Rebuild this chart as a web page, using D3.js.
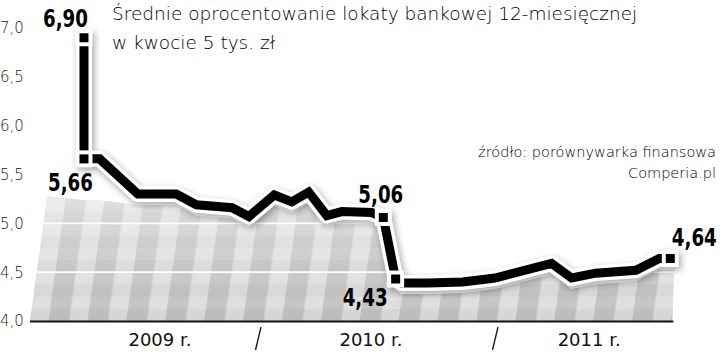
<!DOCTYPE html>
<html>
<head>
<meta charset="utf-8">
<script src="https://cdn.jsdelivr.net/npm/d3@7"></script>
<style>
  html, body { margin: 0; padding: 0; background: #fff; }
  svg { display: block; }
  .light { font-family: "DejaVu Sans", sans-serif; font-weight: 200; }
  .regular { font-family: "DejaVu Sans", sans-serif; font-weight: 400; }
  .big { font-family: "DejaVu Sans Condensed", "DejaVu Sans", sans-serif; font-stretch: condensed; font-weight: bold; }
</style>
</head>
<body>
<div id="chart"></div>
<script>
// data
const dates = ["2009-04-08","2009-04-08","2009-05-02","2009-06-30","2009-08-28","2009-09-28","2009-11-22","2009-12-18",
  "2010-01-26","2010-02-22","2010-03-20","2010-04-17","2010-05-10","2010-06-25","2010-07-13","2010-08-01",
  "2010-08-10","2010-09-20","2010-11-12","2011-01-01","2011-03-29","2011-04-29","2011-06-05","2011-08-06",
  "2011-09-11","2011-09-28"];
const values = [6.90,5.66,5.66,5.30,5.30,5.19,5.16,5.07,5.29,5.22,5.32,5.08,5.12,5.11,5.06,4.43,
  4.39,4.39,4.40,4.44,4.59,4.44,4.49,4.52,4.64,4.64];
const markerIdx = [0, 1, 14, 15, 25];
const yTicks = [4.0, 4.5, 5.0, 5.5, 6.0, 6.5, 7.0];
const gridTicks = [4.5, 5.0];
const yearLabels = ["2009 r.", "2010 r.", "2011 r."];
const yearLabelDates = ["2009-08-03", "2010-06-24", "2011-05-26"];
const yearBreaks = ["2010-01-01", "2011-01-01"];
const title = ["Średnie oprocentowanie lokaty bankowej 12-miesięcznej", "w kwocie 5 tys. zł"];
const source = ["źródło: porównywarka finansowa", "Comperia.pl"];

const width = 720, height = 352;
const parse = d3.timeParse("%Y-%m-%d");
const data = dates.map((d, i) => ({ date: parse(d), value: values[i] }));

const x = d3.scaleTime()
  .domain([new Date(2009, 0, 1), new Date(2012, 0, 1)])
  .range([21, 732]);
const y = d3.scaleLinear().domain([4, 7]).range([321, 28]);

const comma = v => d3.format(".1f")(v).replace(".", ",");
const comma2 = v => d3.format(".2f")(v).replace(".", ",");

const svg = d3.select("#chart").append("svg")
  .attr("width", width).attr("height", height);
const defs = svg.append("defs");

// striped, slanted background under the line
const pat = defs.append("pattern")
  .attr("id", "stripes")
  .attr("patternUnits", "userSpaceOnUse")
  .attr("width", 38.9).attr("height", 400)
  .attr("patternTransform", "translate(0,321) skewX(-8) translate(48.5,-321)");
pat.append("rect").attr("width", 38.9).attr("height", 400).attr("fill", "#dedede");
pat.append("rect").attr("width", 20.5).attr("height", 400).attr("fill", "#c3c3c3");

const fade = defs.append("linearGradient")
  .attr("id", "fade").attr("gradientUnits", "userSpaceOnUse")
  .attr("x1", 0).attr("x2", 0).attr("y1", 190).attr("y2", 321);
fade.append("stop").attr("offset", 0).attr("stop-color", "#fff").attr("stop-opacity", 0.5);
fade.append("stop").attr("offset", 0.7).attr("stop-color", "#fff").attr("stop-opacity", 0.08);
fade.append("stop").attr("offset", 1).attr("stop-color", "#fff").attr("stop-opacity", 0);

const shadow = defs.append("filter").attr("id", "shadow")
  .attr("x", "-10%").attr("y", "-10%").attr("width", "120%").attr("height", "120%");
shadow.append("feGaussianBlur").attr("stdDeviation", 3.5);

// area outline: the line dropped a little, the spike left out
const areaCap = 5.35, drop = 11;
const base = y(4);
const areaPts = data.slice(1).map(d => [x(d.date), y(Math.min(d.value, areaCap)) + drop]);
const top0 = areaPts[0][1] - 4;
const last = areaPts[areaPts.length - 1];
const poly = [[30, base], [30 + 0.14 * (base - top0), top0]]
  .concat(areaPts)
  .concat([[last[0] + 4, last[1]], [last[0] + 2, base]]);

defs.append("clipPath").attr("id", "areaClip")
  .append("path").attr("d", d3.line()(poly) + "Z");

const area = svg.append("g").attr("clip-path", "url(#areaClip)");
area.append("rect").attr("x", 0).attr("y", 100).attr("width", width).attr("height", base - 100)
  .attr("fill", "url(#stripes)");
// faint horizontal bands
const bands = d3.range(4, 5.5, 0.25);
area.selectAll(".band").data(bands).join("rect")
  .attr("x", 0).attr("width", width)
  .attr("y", d => y(d + 0.125)).attr("height", d => y(d) - y(d + 0.125))
  .attr("fill", "#000").attr("opacity", 0.035);
area.append("rect").attr("x", 0).attr("y", 100).attr("width", width).attr("height", base - 100)
  .attr("fill", "url(#fade)");
area.selectAll(".grid").data(gridTicks).join("line")
  .attr("x1", 0).attr("x2", width)
  .attr("y1", d => y(d)).attr("y2", d => y(d))
  .attr("stroke", "#fff").attr("stroke-width", 1.6);

// baseline
svg.append("line")
  .attr("x1", 30).attr("x2", last[0] + 3)
  .attr("y1", base + 0.5).attr("y2", base + 0.5)
  .attr("stroke", "#111").attr("stroke-width", 2);

// y tick labels
svg.selectAll(".ytick").data(yTicks).join("text")
  .attr("class", "light")
  .attr("x", 0).attr("y", d => y(d)).attr("dy", "0.36em")
  .attr("font-size", 15).attr("fill", "#222")
  .text(comma);

// year labels and separators
svg.selectAll(".year").data(yearLabels).join("text")
  .attr("class", "regular")
  .attr("x", (d, i) => x(parse(yearLabelDates[i])))
  .attr("y", 346).attr("text-anchor", "middle")
  .attr("font-size", 18).attr("fill", "#111")
  .text(d => d);
svg.selectAll(".sep").data(yearBreaks).join("line")
  .attr("x1", d => x(parse(d)) - 2.5).attr("x2", d => x(parse(d)) + 3)
  .attr("y1", 350).attr("y2", 327)
  .attr("stroke", "#111").attr("stroke-width", 1.3);

// the line
const line = d3.line().x(d => x(d.date)).y(d => y(d.value));
const markers = markerIdx.map(i => data[i]);

const sh = svg.append("g").attr("filter", "url(#shadow)").attr("transform", "translate(2,3)")
  .attr("opacity", 0.35);
sh.append("path").attr("d", line(data)).attr("fill", "none")
  .attr("stroke", "#000").attr("stroke-width", 16).attr("stroke-linejoin", "round");
sh.selectAll("rect").data(markers).join("rect")
  .attr("x", d => x(d.date) - 8.5).attr("y", d => y(d.value) - 8.5)
  .attr("width", 17).attr("height", 17).attr("fill", "#000");

svg.append("path").attr("d", line(data)).attr("fill", "none")
  .attr("stroke", "#fff").attr("stroke-width", 16).attr("stroke-linejoin", "round");
svg.append("path").attr("d", line(data)).attr("fill", "none")
  .attr("stroke", "#000").attr("stroke-width", 9)
  .attr("stroke-linejoin", "miter").attr("stroke-miterlimit", 2);

svg.selectAll(".mk-bg").data(markers).join("rect")
  .attr("x", d => x(d.date) - 8.5).attr("y", d => y(d.value) - 8.5)
  .attr("width", 17).attr("height", 17).attr("fill", "#fff");
svg.selectAll(".mk").data(markers).join("rect")
  .attr("x", d => x(d.date) - 4.5).attr("y", d => y(d.value) - 4.5)
  .attr("width", 9).attr("height", 9).attr("fill", "#000");

// value labels next to the markers (offsets from the marker, left edge of text)
const labelPos = [
  { dx: -41, dy: -11 },
  { dx: -36, dy: 32 },
  { dx: -25, dy: -14 },
  { dx: -53, dy: 27 },
  { dx: 1.5, dy: -12.5 }
];
const labelW = 45;
svg.selectAll(".val").data(markers).join("text")
  .attr("class", "big")
  .attr("font-size", 24).attr("fill", "#000")
  .text(d => comma2(d.value))
  .attr("transform", function(d, i) {
    const sx = labelW / this.getComputedTextLength();
    return "translate(" + (x(d.date) + labelPos[i].dx) + "," + (y(d.value) + labelPos[i].dy) + ") scale(" + sx + ",1)";
  });

// title and source
svg.selectAll(".title").data(title).join("text")
  .attr("class", "light")
  .attr("x", 112).attr("y", (d, i) => 20 + i * 29)
  .attr("font-size", 18.5).attr("fill", "#000")
  .text(d => d);
svg.selectAll(".src").data(source).join("text")
  .attr("class", "light")
  .attr("x", 716).attr("y", (d, i) => 157 + i * 21)
  .attr("text-anchor", "end")
  .attr("font-size", 14.5).attr("fill", "#000")
  .text(d => d);
</script>
</body>
</html>
